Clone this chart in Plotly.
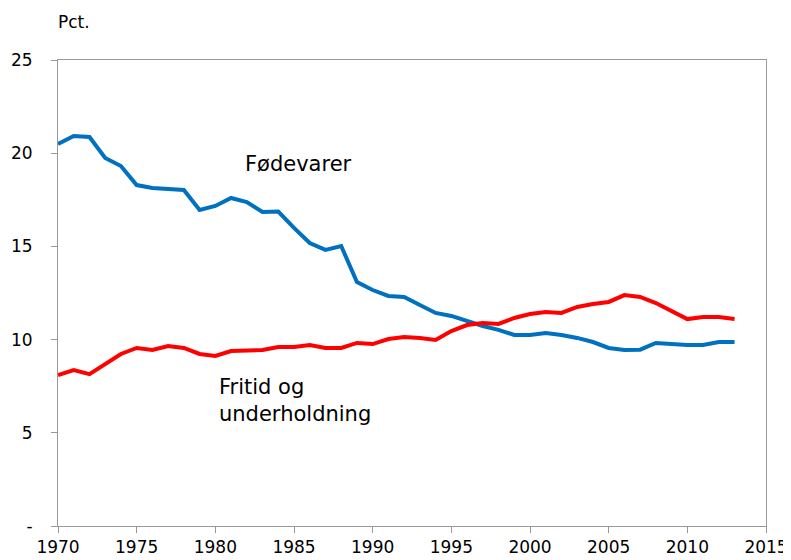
import plotly.graph_objects as go

years = list(range(1970, 2014))
fodevarer = [20.49, 20.92, 20.87, 19.74, 19.31, 18.29, 18.13, 18.08, 18.03, 16.95,
             17.17, 17.60, 17.38, 16.85, 16.87, 15.99, 15.18, 14.81, 15.02, 13.09,
             12.66, 12.34, 12.29, 11.86, 11.43, 11.27, 11.00, 10.73, 10.52, 10.25,
             10.25, 10.35, 10.25, 10.09, 9.87, 9.55, 9.44, 9.46, 9.82, 9.76,
             9.71, 9.71, 9.87, 9.87]
fritid = [8.10, 8.37, 8.15, 8.69, 9.23, 9.55, 9.44, 9.66, 9.55, 9.23,
          9.12, 9.39, 9.39, 9.44, 9.60, 9.60, 9.71, 9.55, 9.55, 9.82,
          9.76, 10.03, 10.14, 10.09, 9.98, 10.46, 10.78, 10.89, 10.84, 11.16,
          11.37, 11.48, 11.43, 11.75, 11.91, 12.02, 12.39, 12.29, 11.96, 11.53,
          11.10, 11.21, 11.21, 11.10]
x_ticks = [1970, 1975, 1980, 1985, 1990, 1995, 2000, 2005, 2010, 2015]
y_ticks = [0, 5, 10, 15, 20, 25]
y_labels = ["-", "5", "10", "15", "20", "25"]

font = "DejaVu Sans, Verdana, sans-serif"

fig = go.Figure()
fig.add_trace(go.Scatter(x=years, y=fodevarer, mode="lines", name="Fødevarer",
                         line=dict(color="#0070C0", width=4)))
fig.add_trace(go.Scatter(x=years, y=fritid, mode="lines", name="Fritid og underholdning",
                         line=dict(color="#FF0000", width=4)))

# the page body adds an 8px offset, so the figure is sized to the visible area
fig.update_layout(
    width=783, height=552,
    margin=dict(l=50, r=25, t=52, b=34, autoexpand=False),
    plot_bgcolor="white", paper_bgcolor="white",
    showlegend=False,
    font=dict(family=font, size=17, color="black"),
    xaxis=dict(range=[1970, 2015], tickvals=x_ticks, showgrid=False, zeroline=False,
               showline=True, linecolor="#999999", linewidth=1, mirror=True,
               ticks="outside", ticklen=6, tickcolor="#999999",
               tickfont=dict(size=17)),
    yaxis=dict(range=[0, 25], tickvals=y_ticks, ticktext=y_labels, showgrid=False,
               zeroline=False, showline=True, linecolor="#999999", linewidth=1,
               mirror=True, ticks="outside", ticklen=6, tickcolor="#999999",
               ticklabelstandoff=15, tickfont=dict(size=17)),
    annotations=[
        dict(text="Pct.", x=0.0, y=1.0, xref="paper", yref="paper", showarrow=False,
             xanchor="left", yanchor="bottom", yshift=26, xshift=-2, font=dict(size=17)),
        dict(text="Fødevarer", x=1981.76, y=19.43, xref="x", yref="y", showarrow=False,
             xanchor="left", yanchor="middle", font=dict(size=21)),
        dict(text="Fritid og<br>underholdning", x=1980.1, y=6.73, xref="x", yref="y",
             showarrow=False, xanchor="left", yanchor="middle", align="left",
             font=dict(size=21)),
    ],
)
fig.write_html("out.html")
